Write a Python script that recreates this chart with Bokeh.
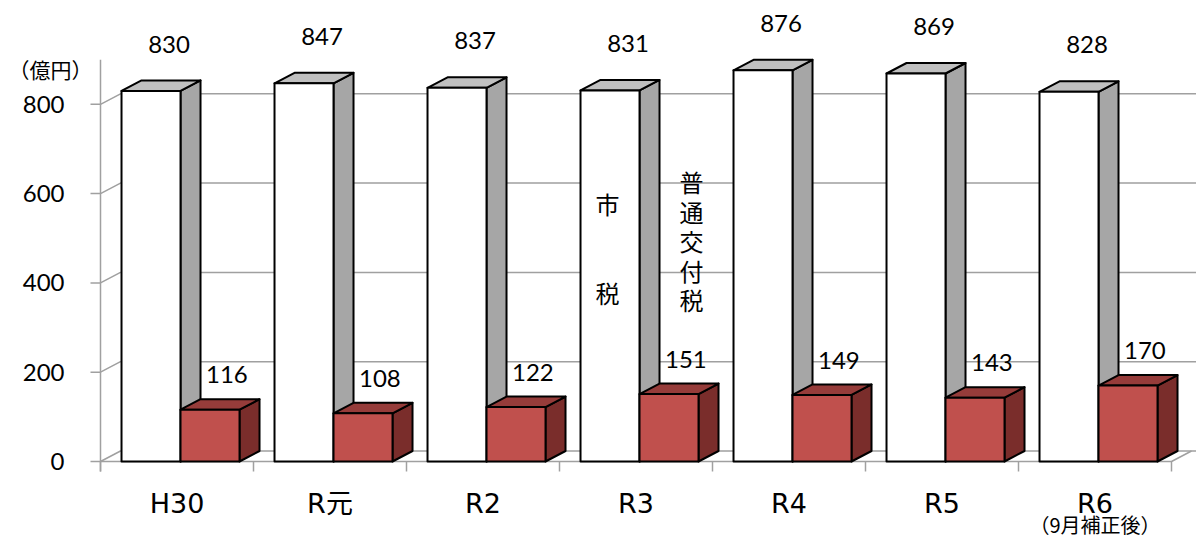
from bokeh.plotting import figure
from bokeh.models import Range1d
from bokeh.core.properties import value
from bokeh.embed import file_html
from bokeh.resources import INLINE

# ---- data ----
categories = ["H30", "R元", "R2", "R3", "R4", "R5", "R6"]
city_tax = [830, 847, 837, 831, 876, 869, 828]      # 市税
grant_tax = [116, 108, 122, 151, 149, 143, 170]     # 普通交付税
y_ticks = [0, 200, 400, 600, 800]
y_tick_labels = ["0", "200", "400", "600", "800"]
sub_labels = ["", "", "", "", "", "", "（9月補正後）"]
unit_label = "（億円）"
series_city = ["市", "税"]
series_grant = list("普通交付税")

# ---- geometry (pixel based scale) ----
PX_CAT = 153.0      # px per category
PX_VAL = 0.4465     # px per 億円
DX = 20 / PX_CAT    # 3D depth offset (x)
DY = 10.5 / PX_VAL  # 3D depth offset (y)
W = 59 / PX_CAT     # bar front width
OFF = 0.523         # split point between the two bars inside a category
AXIS_TOP = 900
FIG_W, FIG_H = 1196, 538
AX_X, BASE_Y = 100, 461   # axis position / baseline in figure pixels

x_start = -AX_X / PX_CAT
x_end = (FIG_W - AX_X) / PX_CAT
y_start = -(FIG_H - BASE_Y) / PX_VAL
y_end = BASE_Y / PX_VAL

p = figure(width=FIG_W, height=FIG_H, x_range=Range1d(x_start, x_end),
           y_range=Range1d(y_start, y_end), output_backend="svg",
           toolbar_location=None, title=None, x_axis_location=None,
           y_axis_location=None, min_border=0)
p.outline_line_color = None
p.grid.visible = False
p.background_fill_color = "white"

GRAY = "#a0a0a0"
n = len(categories)
idx = list(range(n))

# back wall gridlines (with diagonal on side wall)
gx, gy = [], []
for v in y_ticks:
    gx.append([0, DX, x_end])
    gy.append([v, v + DY, v + DY])
p.multi_line(gx, gy, line_color=GRAY, line_width=1.5)

# vertical axis line and its ticks
p.segment(x0=[0], y0=[-10 / PX_VAL], x1=[0], y1=[AXIS_TOP], line_color=GRAY, line_width=1.5)
p.segment(x0=[-10 / PX_CAT] * len(y_ticks), y0=y_ticks, x1=[0] * len(y_ticks), y1=y_ticks,
          line_color=GRAY, line_width=1.5)
p.text(x=[-36 / PX_CAT] * len(y_ticks), y=y_ticks, text=y_tick_labels,
       text_font=value("Lato"), text_font_size="24px", text_align="right",
       text_baseline="middle", text_color="black")

# front floor edge and right floor edge
p.line([0, n, n + DX], [0, 0, DY], line_color=GRAY, line_width=1.5)
# category ticks
p.segment(x0=list(range(n + 1)), y0=[0] * (n + 1), x1=list(range(n + 1)),
          y1=[-10 / PX_VAL] * (n + 1), line_color=GRAY, line_width=1.5)


def draw_bars(lefts, vals, front, top, side):
    fx, fy, tx, ty, sx, sy = [], [], [], [], [], []
    for l, v in zip(lefts, vals):
        r = l + W
        fx.append([l, r, r, l]); fy.append([0, 0, v, v])
        tx.append([l, l + DX, r + DX, r]); ty.append([v, v + DY, v + DY, v])
        sx.append([r, r, r + DX, r + DX]); sy.append([0, v, v + DY, DY])
    kw = dict(line_color="black", line_width=2, line_join="round")
    p.patches(sx, sy, fill_color=side, **kw)
    p.patches(tx, ty, fill_color=top, **kw)
    p.patches(fx, fy, fill_color=front, **kw)


white_left = [i + OFF - W for i in idx]
red_left = [i + OFF for i in idx]
draw_bars(white_left, city_tax, "white", "#c0c0c0", "#a6a6a6")
draw_bars(red_left, grant_tax, "#c0504d", "#963c3a", "#7a2d2b")

num_font = value("Lato")
p.text(x=[l + W / 2 + 0.118 for l in white_left], y=[v + 105 for v in city_tax],
       text=[str(v) for v in city_tax], text_font=num_font, text_font_size="24px",
       text_align="center", text_baseline="middle", text_color="black")
p.text(x=[l + W / 2 + 0.11 for l in red_left], y=[v + 78 for v in grant_tax],
       text=[str(v) for v in grant_tax], text_font=num_font, text_font_size="24px",
       text_align="center", text_baseline="middle", text_color="black")

# category labels
p.text(x=[i + 0.5 for i in idx], y=[-42 / PX_VAL] * n, text=categories,
       text_font=value("DejaVu Sans, Noto Sans CJK JP"), text_font_size="27px",
       text_align="center", text_baseline="middle", text_color="black")
p.text(x=[i + 0.5 for i in idx], y=[-63 / PX_VAL] * n, text=sub_labels,
       text_font=value("Noto Sans CJK JP"), text_font_size="20px",
       text_align="center", text_baseline="middle", text_color="black")

# series labels
cjk = value("Noto Sans CJK JP")
city_x = (607 - AX_X) / PX_CAT
p.text(x=[city_x] * 2, y=[(BASE_Y - 203) / PX_VAL, (BASE_Y - 292) / PX_VAL], text=series_city,
       text_font=cjk, text_font_size="24px", text_align="center",
       text_baseline="middle", text_color="black")
grant_x = (691 - AX_X) / PX_CAT
gcy = (BASE_Y - 240) / PX_VAL
p.text(x=[grant_x] * len(series_grant),
       y=[gcy - (j - 2) * 29.5 / PX_VAL for j in range(len(series_grant))],
       text=series_grant, text_font=cjk, text_font_size="24px", text_align="center",
       text_baseline="middle", text_color="black")

# unit label
p.text(x=[-50 / PX_CAT], y=[(BASE_Y - 68) / PX_VAL], text=[unit_label],
       text_font=cjk, text_font_size="21px", text_align="center",
       text_baseline="middle", text_color="black")

open("out.html", "w").write(file_html(p, INLINE))
